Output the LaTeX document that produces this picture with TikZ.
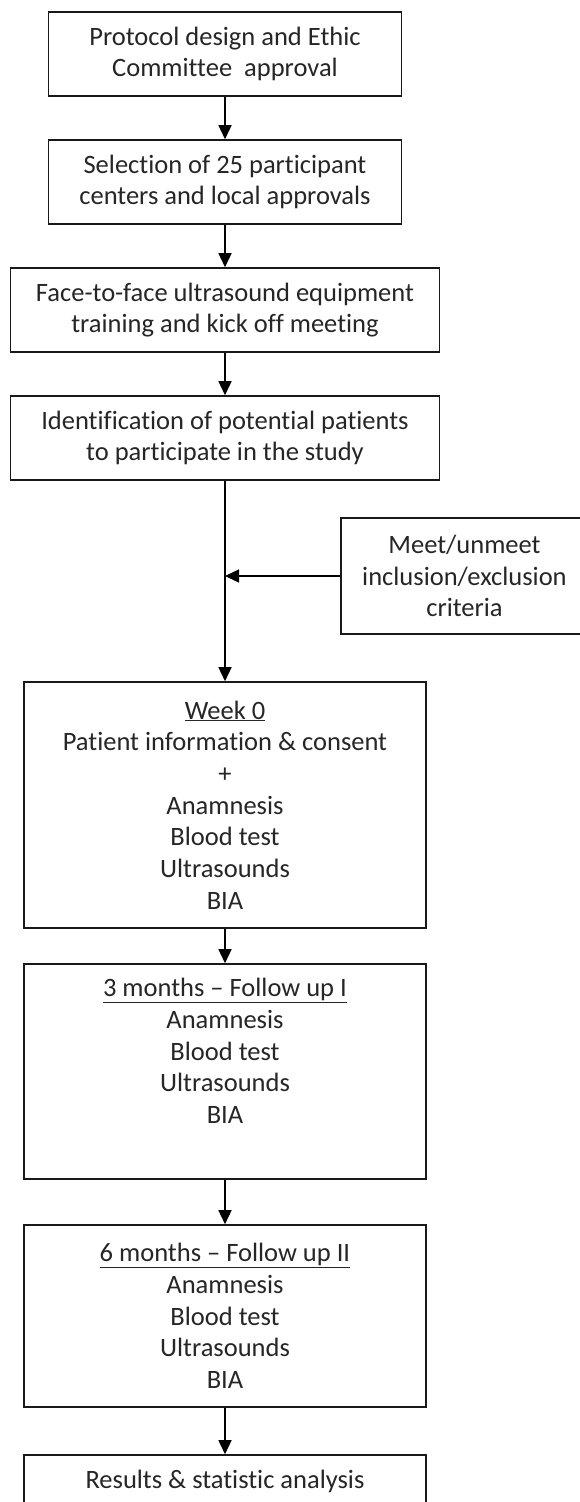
\documentclass[tikz,border=0pt]{standalone}
\usepackage{fontspec}
\setmainfont{Carlito}[Ligatures=NoCommon]
\usetikzlibrary{arrows.meta}
\tikzstyle{stepbox}=[draw=black!90,line width=1.6pt,fill=white,text=black!85,align=center,inner sep=0pt,font=\fontsize{26.5}{31.7}\selectfont]
\tikzstyle{edge}=[draw,line width=1.5pt,-{Triangle[length=14pt,width=13pt]}]

\begin{document}
\begin{tikzpicture}[x=1pt,y=-1pt]

   \useasboundingbox (0,0) rectangle (579,1502);

%first steps
    \foreach \pos/\name/\w/\txt in {{(225,54)/prot/353/{Protocol design and Ethic\\Committee\ \ approval}}, {(225,182)/sel/353/{Selection of 25 participant\\centers and local approvals}}, {(225,310)/train/429/{Face-to-face ultrasound equipment\\training and kick off meeting}}, {(225,438)/ident/429/{Identification of potential patients\\to participate in the study}}}
    	\node[stepbox,minimum width=\w pt,minimum height=84pt] (\name) at \pos {\txt};

%criteria
   \node[stepbox,minimum width=247pt,minimum height=116pt] (crit) at (464.5,576) {Meet/unmeet\\inclusion/exclusion\\criteria};

%visits
   \node[stepbox,minimum width=402pt,minimum height=246pt] (week0) at (225,805) {\underline{Week 0}\\Patient information \& consent\\+\\Anamnesis\\Blood test\\Ultrasounds\\BIA};
   \node[stepbox,minimum width=402pt,minimum height=215pt] (fup1) at (225,1071.5) {\underline{3 months – Follow up I}\\Anamnesis\\Blood test\\Ultrasounds\\BIA\\\strut};
   \node[stepbox,minimum width=402pt,minimum height=182pt] (fup2) at (225,1316) {\underline{6 months – Follow up II}\\Anamnesis\\Blood test\\Ultrasounds\\BIA};
   \node[stepbox,minimum width=402pt,minimum height=52pt] (res) at (225,1481) {Results \& statistic analysis};

    % Connect steps
    \foreach \source/ \dest in {prot/sel, sel/train, train/ident, ident/week0, week0/fup1, fup1/fup2, fup2/res}
        \path[edge] (\source) -- (\dest);

    \coordinate (join) at (ident.south |- crit.west);
    \path[edge] (crit.west) -- (join);

\end{tikzpicture}
\end{document}
